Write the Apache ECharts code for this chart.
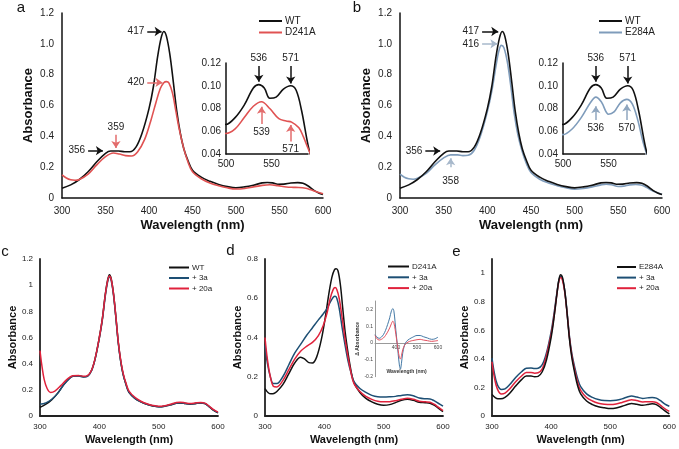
<!DOCTYPE html>
<html><head><meta charset="utf-8">
<script src="https://cdn.jsdelivr.net/npm/echarts@6/dist/echarts.min.js"></script>
<style>html,body{margin:0;padding:0;background:#fff}#c{width:679px;height:449px}</style>
</head><body><div id="c"></div>
<script>
// ---------- data (wavelength nm, absorbance) ----------
const wtAB = [[300,0.063],[310,0.085],[320,0.12],[330,0.17],[340,0.235],[350,0.29],[356,0.305],[365,0.305],[372,0.3],[378,0.3],[385,0.33],[392,0.42],[400,0.58],[405,0.72],[410,0.92],[414,1.04],[417,1.08],[420,1.05],[424,0.93],[428,0.75],[432,0.56],[436,0.42],[440,0.32],[445,0.24],[450,0.18],[460,0.135],[470,0.108],[480,0.088],[490,0.074],[500,0.066],[510,0.072],[520,0.083],[530,0.098],[536,0.101],[542,0.098],[548,0.089],[555,0.09],[563,0.097],[571,0.1],[577,0.096],[583,0.078],[590,0.048],[595,0.033],[600,0.022]];
const d241aA = [[300,0.15],[305,0.13],[310,0.118],[315,0.115],[320,0.12],[330,0.155],[340,0.215],[350,0.268],[359,0.292],[366,0.285],[373,0.275],[380,0.272],[387,0.3],[395,0.38],[402,0.5],[408,0.62],[413,0.71],[417,0.748],[420,0.755],[423,0.745],[427,0.68],[431,0.56],[435,0.44],[440,0.32],[445,0.23],[450,0.17],[460,0.125],[470,0.098],[480,0.08],[490,0.066],[500,0.058],[510,0.062],[520,0.072],[530,0.082],[539,0.086],[548,0.08],[558,0.071],[566,0.069],[572,0.068],[580,0.063],[585,0.055],[590,0.045],[595,0.036],[600,0.028]];
const e284aB = [[300,0.155],[305,0.135],[310,0.125],[315,0.122],[320,0.128],[330,0.16],[340,0.215],[350,0.26],[358,0.28],[366,0.28],[372,0.275],[378,0.277],[385,0.31],[392,0.4],[400,0.56],[405,0.69],[410,0.86],[413,0.95],[416,0.99],[419,0.975],[423,0.88],[427,0.72],[431,0.54],[435,0.41],[440,0.3],[445,0.22],[450,0.165],[460,0.122],[470,0.097],[480,0.08],[490,0.066],[500,0.057],[510,0.062],[520,0.072],[530,0.085],[536,0.09],[542,0.086],[550,0.075],[556,0.077],[563,0.085],[570,0.088],[576,0.084],[582,0.07],[588,0.05],[594,0.035],[600,0.022]];

const wtC = [[300,0.066],[310,0.09],[320,0.125],[330,0.175],[340,0.24],[350,0.29],[356,0.305],[365,0.307],[373,0.3],[380,0.305],[387,0.35],[393,0.44],[400,0.6],[405,0.74],[410,0.93],[414,1.04],[417,1.08],[420,1.05],[424,0.93],[428,0.75],[432,0.56],[436,0.42],[440,0.32],[445,0.24],[450,0.18],[460,0.135],[470,0.108],[480,0.09],[490,0.077],[500,0.07],[510,0.074],[520,0.085],[530,0.097],[536,0.1],[545,0.095],[553,0.09],[563,0.096],[571,0.1],[578,0.095],[585,0.072],[592,0.045],[600,0.025]];
const a3C = [[300,0.092],[305,0.094],[310,0.1],[320,0.128],[330,0.175],[340,0.238],[350,0.288],[356,0.303],[365,0.305],[373,0.298],[380,0.303],[387,0.348],[393,0.437],[400,0.595],[405,0.73],[410,0.915],[414,1.025],[417,1.062],[420,1.035],[424,0.92],[428,0.745],[432,0.555],[436,0.418],[440,0.32],[445,0.24],[450,0.18],[460,0.135],[470,0.108],[480,0.09],[490,0.078],[500,0.071],[510,0.075],[520,0.086],[530,0.098],[536,0.101],[545,0.096],[553,0.091],[563,0.097],[571,0.1],[578,0.095],[585,0.072],[592,0.046],[600,0.026]];
const a20C = [[300,0.5],[303,0.39],[307,0.28],[312,0.21],[318,0.18],[325,0.19],[335,0.232],[345,0.278],[355,0.307],[365,0.31],[373,0.303],[380,0.308],[387,0.352],[393,0.442],[400,0.6],[405,0.74],[410,0.925],[414,1.035],[417,1.07],[420,1.045],[424,0.93],[428,0.755],[432,0.565],[436,0.428],[440,0.33],[445,0.25],[450,0.19],[460,0.142],[470,0.113],[480,0.094],[490,0.081],[500,0.074],[510,0.078],[520,0.09],[530,0.103],[536,0.106],[545,0.1],[553,0.095],[563,0.101],[571,0.104],[578,0.098],[585,0.076],[592,0.05],[600,0.03]];

const d241aD = [[300,0.14],[305,0.12],[310,0.113],[315,0.115],[320,0.125],[330,0.16],[340,0.215],[350,0.27],[360,0.3],[367,0.29],[374,0.272],[380,0.27],[387,0.3],[395,0.39],[402,0.51],[408,0.63],[413,0.71],[417,0.745],[420,0.75],[423,0.74],[427,0.67],[431,0.55],[435,0.43],[440,0.32],[445,0.23],[450,0.17],[460,0.12],[470,0.09],[480,0.072],[490,0.06],[500,0.055],[510,0.058],[520,0.068],[530,0.08],[540,0.085],[550,0.08],[560,0.07],[570,0.068],[578,0.065],[585,0.055],[592,0.04],[600,0.022]];
const a3D = [[300,0.36],[304,0.27],[309,0.2],[314,0.165],[320,0.165],[330,0.2],[340,0.26],[350,0.32],[360,0.365],[370,0.41],[380,0.45],[390,0.49],[398,0.52],[405,0.55],[410,0.58],[415,0.605],[418,0.61],[421,0.6],[425,0.55],[430,0.45],[435,0.36],[440,0.28],[445,0.22],[450,0.175],[460,0.14],[470,0.12],[480,0.105],[490,0.098],[500,0.097],[510,0.098],[520,0.1],[530,0.105],[540,0.108],[550,0.103],[560,0.092],[570,0.088],[578,0.087],[585,0.078],[592,0.065],[600,0.05]];
const a20D = [[300,0.4],[304,0.29],[309,0.2],[314,0.152],[320,0.148],[330,0.18],[340,0.235],[350,0.29],[360,0.33],[370,0.355],[380,0.375],[390,0.41],[398,0.46],[405,0.53],[410,0.6],[415,0.645],[418,0.655],[421,0.645],[425,0.6],[430,0.5],[435,0.39],[440,0.3],[445,0.22],[450,0.165],[460,0.125],[470,0.1],[480,0.085],[490,0.075],[500,0.072],[510,0.073],[520,0.078],[530,0.085],[540,0.09],[550,0.085],[560,0.075],[570,0.072],[578,0.07],[585,0.06],[592,0.045],[600,0.027]];
const diff3D = [[300,0.05],[310,0.035],[320,0.028],[330,0.035],[340,0.05],[350,0.075],[360,0.11],[370,0.15],[378,0.19],[385,0.205],[390,0.19],[396,0.12],[403,0.03],[410,-0.06],[416,-0.13],[421,-0.155],[426,-0.12],[432,-0.06],[440,-0.015],[450,0.01],[465,0.025],[480,0.035],[500,0.045],[515,0.045],[530,0.038],[550,0.03],[570,0.022],[585,0.025],[600,0.035]];
const diff20D = [[300,0.045],[310,0.025],[320,0.018],[330,0.022],[340,0.03],[350,0.045],[360,0.065],[370,0.09],[378,0.115],[385,0.13],[390,0.12],[396,0.08],[403,0.02],[410,-0.04],[416,-0.085],[421,-0.095],[426,-0.075],[432,-0.04],[440,-0.015],[450,0.0],[465,0.01],[480,0.015],[500,0.02],[515,0.022],[530,0.018],[550,0.014],[570,0.01],[585,0.012],[600,0.015]];

const e284aE = [[300,0.15],[305,0.13],[310,0.12],[315,0.12],[322,0.13],[330,0.16],[340,0.21],[350,0.255],[358,0.28],[366,0.28],[372,0.275],[378,0.278],[385,0.31],[392,0.39],[400,0.55],[405,0.69],[410,0.86],[413,0.95],[416,0.99],[419,0.975],[423,0.88],[427,0.72],[431,0.54],[435,0.41],[440,0.3],[445,0.21],[450,0.155],[460,0.105],[470,0.08],[480,0.065],[490,0.057],[500,0.052],[510,0.056],[520,0.068],[530,0.082],[536,0.088],[545,0.082],[555,0.075],[563,0.08],[571,0.085],[578,0.08],[585,0.06],[592,0.038],[600,0.015]];
const a3E = [[300,0.405],[304,0.3],[309,0.22],[316,0.186],[322,0.19],[330,0.22],[340,0.27],[350,0.31],[358,0.335],[366,0.337],[372,0.333],[378,0.335],[385,0.36],[392,0.44],[400,0.59],[405,0.72],[410,0.87],[413,0.95],[416,0.98],[419,0.965],[423,0.88],[427,0.73],[431,0.56],[435,0.44],[440,0.34],[445,0.26],[450,0.205],[460,0.155],[470,0.13],[480,0.115],[490,0.108],[500,0.107],[510,0.11],[520,0.12],[530,0.135],[536,0.14],[545,0.133],[555,0.123],[563,0.127],[571,0.13],[578,0.125],[585,0.107],[592,0.085],[600,0.068]];
const a20E = [[300,0.38],[304,0.27],[309,0.19],[316,0.154],[322,0.16],[330,0.19],[340,0.24],[350,0.28],[358,0.305],[366,0.305],[372,0.3],[378,0.303],[385,0.33],[392,0.42],[400,0.57],[405,0.7],[410,0.86],[413,0.94],[416,0.97],[419,0.955],[423,0.87],[427,0.72],[431,0.55],[435,0.425],[440,0.32],[445,0.235],[450,0.18],[460,0.13],[470,0.105],[480,0.09],[490,0.083],[500,0.08],[510,0.084],[520,0.095],[530,0.108],[536,0.114],[545,0.108],[555,0.098],[563,0.1],[571,0.1],[578,0.095],[585,0.075],[592,0.052],[600,0.033]];

// ---------- annotations (label, arrow tail, arrow head in data coords) ----------
const annA_WT = [{t:'417', from:[398,1.08], to:[414.5,1.08]}, {t:'356', from:[330,0.307], to:[347,0.307]}];
const annA_D = [{t:'420', from:[398,0.75], to:[415.5,0.75]}, {t:'359', from:[362,0.41], to:[362,0.325]}];
const annAi_WT = [{t:'536', from:[536,0.1174], to:[536,0.1036]}, {t:'571', from:[571,0.1174], to:[571,0.102]}];
const annAi_D = [{t:'539', from:[539,0.0664], to:[539,0.0816]}, {t:'571', from:[571,0.051], to:[571,0.0655]}];
const annB_WT = [{t:'417', from:[394,1.08], to:[412.5,1.08]}, {t:'356', from:[329,0.305], to:[346,0.305]}];
const annB_E = [{t:'416', from:[394,1.0], to:[411.5,1.0]}, {t:'358', from:[358,0.2], to:[358,0.258], d:9}];
const annBi_WT = [{t:'536', from:[536,0.1174], to:[536,0.1036]}, {t:'571', from:[571,0.1174], to:[571,0.102]}];
const annBi_E = [{t:'536', from:[536,0.0699], to:[536,0.082]}, {t:'570', from:[570,0.0699], to:[570,0.0835]}];

// ---------- styling ----------
const FF = '"Liberation Sans", Arial, sans-serif';
const AX = '#111';
const C_BLACK = '#111111', C_D241A = '#e05252', C_E284A = '#7f9cbb';
const C_3A = '#1d4f74', C_20A = '#e0223c';
const C_3A_I = '#4479a6', C_20A_I = '#e4505e';

function mk(list, color, fs){
  return {silent:true, animation:false, symbol:['none','arrow'], symbolSize:[7,7],
    lineStyle:{color:color, width:1.5, type:'solid'},
    label:{show:true, position:'start', formatter:'{b}', fontSize:fs||10, color:'#222', fontFamily:FF, distance:3},
    emphasis:{disabled:true},
    data: list.map(a=>{ const s={coord:a.from, name:a.t}; if(a.d!=null) s.label={distance:a.d}; return [s,{coord:a.to}]; })};
}
function ln(name, data, idx, color, w, ml, z){
  const s = {type:'line', name:name, data:data, xAxisIndex:idx, yAxisIndex:idx, smooth:0.35, symbol:'none',
    lineStyle:{color:color, width:w}, itemStyle:{color:color}, animation:false, clip:true, z:z||2,
    emphasis:{disabled:true}};
  if (ml) s.markLine = ml;
  return s;
}
function axLine(c,w){ return {show:true, onZero:false, lineStyle:{color:c||AX, width:w||1.5}}; }
const noTick = {show:false}, noSplit = {show:false};

function topX(g){ return {gridIndex:g, type:'value', min:300, max:600, interval:50, axisLine:axLine(), axisTick:noTick, splitLine:noSplit,
  axisLabel:{fontSize:10, color:'#222', margin:8, fontFamily:FF},
  name:'Wavelength (nm)', nameLocation:'middle', nameGap:21, nameTextStyle:{fontSize:13, fontWeight:'bold', color:'#111', fontFamily:FF}}; }
function topY(g){ return {gridIndex:g, type:'value', min:0, max:1.2, interval:0.2, axisLine:axLine(), axisTick:noTick, splitLine:noSplit,
  axisLabel:{fontSize:10, color:'#222', margin:8, fontFamily:FF, formatter:v=> v===0?'0':v.toFixed(1)},
  name:'Absorbance', nameLocation:'middle', nameGap:27, nameRotate:90, nameTextStyle:{fontSize:13, fontWeight:'bold', color:'#111', fontFamily:FF}}; }
function insX(g){ return {gridIndex:g, type:'value', min:500, max:590, interval:50, axisLine:axLine(), axisTick:noTick, splitLine:noSplit,
  axisLabel:{fontSize:10, color:'#222', margin:5, fontFamily:FF, formatter:v=> (Math.round(v)%50===0)? String(Math.round(v)) : ''}}; }
function insY(g){ return {gridIndex:g, type:'value', min:0.04, max:0.12, interval:0.02, axisLine:axLine(), axisTick:noTick, splitLine:noSplit,
  axisLabel:{fontSize:10, color:'#222', margin:5, fontFamily:FF, formatter:v=> v.toFixed(2)}}; }
function botX(g){ return {gridIndex:g, type:'value', min:300, max:600, interval:100, axisLine:axLine('#222',1.8), axisTick:noTick, splitLine:noSplit,
  axisLabel:{fontSize:8, color:'#222', margin:7, fontFamily:FF},
  name:'Wavelength (nm)', nameLocation:'middle', nameGap:18, nameTextStyle:{fontSize:11, fontWeight:'bold', color:'#111', fontFamily:FF}}; }
function botY(g, max, hideAbove){ return {gridIndex:g, type:'value', min:0, max:max, interval:0.2, axisLine:axLine('#222',1.8), axisTick:noTick, splitLine:noSplit,
  axisLabel:{fontSize:8, color:'#222', margin:7, fontFamily:FF, formatter:v=> (hideAbove!=null && v>hideAbove+1e-6)? '' : String(+v.toFixed(1))},
  name:'Absorbance', nameLocation:'middle', nameGap:21, nameRotate:90, nameTextStyle:{fontSize:11, fontWeight:'bold', color:'#111', fontFamily:FF}}; }

const grids = [
  {left:62, top:13, width:261, height:185},   // a
  {left:226, top:63, width:82, height:91},    // a inset
  {left:400, top:13, width:262, height:185},  // b
  {left:563, top:63, width:82, height:91},    // b inset
  {left:40, top:259, width:178, height:157},  // c
  {left:265, top:259, width:178, height:157}, // d
  {left:375, top:301, width:63, height:75.7}, // d inset
  {left:492, top:259, width:178, height:157}  // e
];
// d inset: zero line sits at 0.25/0.45 of the grid height from the top
const insetDZeroOffset = -(75.7 * 0.2 / 0.45);

const xAxes = [topX(0), insX(1), topX(2), insX(3), botX(4), botX(5),
  {gridIndex:6, type:'value', min:300, max:600, interval:100, offset:insetDZeroOffset,
   axisLine:{show:true, onZero:false, lineStyle:{color:'#9a9a9a', width:1}}, axisTick:noTick, splitLine:noSplit,
   axisLabel:{fontSize:5, color:'#444', margin:2, fontFamily:FF, formatter:v=> v===300?'':String(v)},
   name:'Wavelength (nm)', nameLocation:'middle', nameGap:26, nameTextStyle:{fontSize:5, fontWeight:'bold', color:'#333', fontFamily:FF}},
  botX(7)];
const yAxes = [topY(0), insY(1), topY(2), insY(3), botY(4,1.2), botY(5,0.8), 
  {gridIndex:6, type:'value', min:-0.2, max:0.25, interval:0.1, axisLine:{show:true, onZero:false, lineStyle:{color:'#9a9a9a', width:1}}, axisTick:noTick, splitLine:noSplit,
   axisLabel:{fontSize:5, color:'#444', margin:2, fontFamily:FF, formatter:v=> v>0.21?'':String(+v.toFixed(1))},
   name:'\u0394 Absorbance', nameLocation:'middle', nameGap:7, nameRotate:90, nameTextStyle:{fontSize:5, fontWeight:'bold', color:'#333', fontFamily:FF}},
  botY(7,1.1,1.0)];

const series = [
  ln('WT', wtAB, 0, C_BLACK, 1.6, mk(annA_WT, '#111'), 3),
  ln('D241A', d241aA, 0, C_D241A, 1.6, mk(annA_D, '#e36c6c'), 4),
  ln('WT', wtAB, 1, C_BLACK, 1.6, mk(annAi_WT, '#111'), 3),
  ln('D241A', d241aA, 1, C_D241A, 1.6, mk(annAi_D, '#e36c6c'), 4),
  ln('E284A', e284aB, 2, C_E284A, 1.6, mk(annB_E, '#a7b8cb'), 3),
  ln('WT', wtAB, 2, C_BLACK, 1.6, mk(annB_WT, '#111'), 4),
  ln('E284A', e284aB, 3, C_E284A, 1.6, mk(annBi_E, '#8fa6bf'), 3),
  ln('WT', wtAB, 3, C_BLACK, 1.6, mk(annBi_WT, '#111'), 4),
  ln('WT', wtC, 4, C_BLACK, 1.5, null, 2),
  ln('+ 3a', a3C, 4, C_3A, 1.5, null, 3),
  ln('+ 20a', a20C, 4, C_20A, 1.5, null, 4),
  ln('D241A ', d241aD, 5, C_BLACK, 1.5, null, 2),
  ln('+ 3a', a3D, 5, C_3A, 1.5, null, 3),
  ln('+ 20a', a20D, 5, C_20A, 1.5, null, 4),
  ln('\u0394 3a', diff3D, 6, C_3A_I, 1, null, 3),
  ln('\u0394 20a', diff20D, 6, C_20A_I, 1, null, 4),
  ln('E284A ', e284aE, 7, C_BLACK, 1.5, null, 4),
  ln('+ 3a', a3E, 7, C_3A, 1.5, null, 2),
  ln('+ 20a', a20E, 7, C_20A, 1.5, null, 3)
];

function lg(names, left, top, iw, ih, gap, fs){
  return {data:names, left:left, top:top, orient:'vertical', icon:'rect', itemWidth:iw, itemHeight:ih, itemGap:gap, padding:0, selectedMode:false,
    textStyle:{fontSize:fs, color:'#222', fontFamily:FF, padding:[0,0,0,-2]}};
}
const legends = [
  lg(['WT','D241A'], 259, 16, 23, 2, 1.5, 10),
  lg(['WT','E284A'], 599, 16, 23, 2, 1.5, 10),
  lg(['WT','+ 3a','+ 20a'], 169, 263.5, 20, 2, 2.5, 8),
  lg(['D241A ','+ 3a','+ 20a'], 388, 262.5, 21, 2, 2.8, 8),
  lg(['E284A ','+ 3a','+ 20a'], 617, 263, 19, 2, 2.6, 8)
];

function letter(t, x, y){ return {type:'text', x:x, y:y, silent:true, style:{text:t, fontSize:15, fontFamily:FF, fill:'#111', align:'center', verticalAlign:'middle'}}; }

const chart = echarts.init(document.getElementById('c'), null, {renderer:'canvas'});
chart.setOption({
  backgroundColor:'#fff', animation:false,
  grid: grids, xAxis: xAxes, yAxis: yAxes, series: series, legend: legends,
  graphic: [letter('a',21,8), letter('b',357,8), letter('c',5,252), letter('d',230.5,251), letter('e',456.5,252)]
});
</script></body></html>
